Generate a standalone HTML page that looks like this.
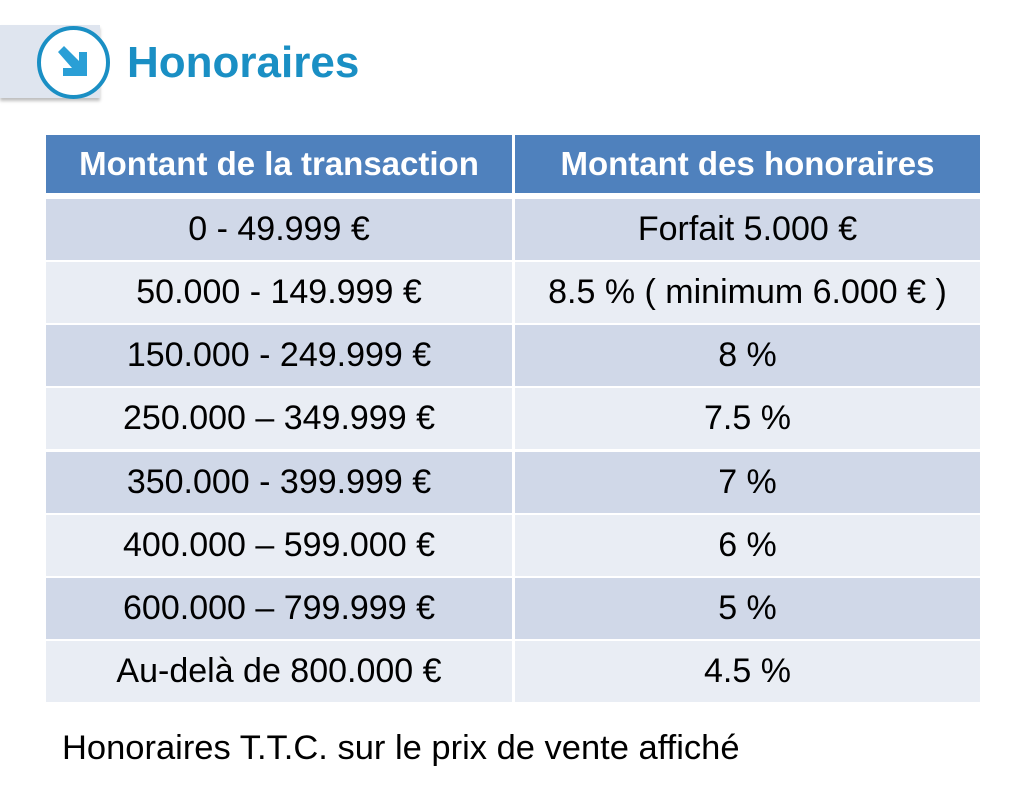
<!DOCTYPE html>
<html><head><meta charset="utf-8"><style>
body{margin:0;width:1024px;height:794px;background:#fff;position:relative;overflow:hidden;font-family:"Liberation Sans","DejaVu Sans",sans-serif}
.band{position:absolute;left:0;top:25px;width:100px;height:73px;background:#dfe5ef;box-shadow:0 3px 3px rgba(0,0,0,0.25)}
.circ{position:absolute;left:37px;top:26px;width:65px;height:65px;border:4px solid #1a8fc4;border-radius:50%;background:#fff}
.title{position:absolute;left:127px;top:38px;font-size:44px;font-weight:bold;color:#1a8fc4}
.c{position:absolute;display:flex;align-items:center;justify-content:center;font-size:34px;color:#000}
.h{background:#4f81bd;color:#fff;font-weight:bold;font-size:33px}
.foot{position:absolute;left:62px;top:729px;font-size:34.5px;color:#000}
</style></head><body>
<div class="band"></div>
<div class="circ"><svg width="65" height="65" viewBox="0 0 65 65"><path d="M17 22 L23 16 L38 31 L38 22 L46 22 L46 46 L22 46 L22 38 L31 38 Z" fill="#2a9fd6"/></svg></div>
<div class="title">Honoraires</div>

<div class="c h" style="left:46px;top:135px;width:466px;height:58px">Montant de la transaction</div>
<div class="c h" style="left:515px;top:135px;width:465px;height:58px">Montant des honoraires</div>

<div class="c" style="left:46px;top:199px;width:466px;height:61px;background:#d0d8e8">0 - 49.999 €</div>
<div class="c" style="left:515px;top:199px;width:465px;height:61px;background:#d0d8e8">Forfait 5.000 €</div>
<div class="c" style="left:46px;top:262px;width:466px;height:61px;background:#e9edf4">50.000 - 149.999 €</div>
<div class="c" style="left:515px;top:262px;width:465px;height:61px;background:#e9edf4">8.5 % ( minimum 6.000 € )</div>
<div class="c" style="left:46px;top:325px;width:466px;height:61px;background:#d0d8e8">150.000 - 249.999 €</div>
<div class="c" style="left:515px;top:325px;width:465px;height:61px;background:#d0d8e8">8 %</div>
<div class="c" style="left:46px;top:388px;width:466px;height:61px;background:#e9edf4">250.000 – 349.999 €</div>
<div class="c" style="left:515px;top:388px;width:465px;height:61px;background:#e9edf4">7.5 %</div>
<div class="c" style="left:46px;top:452px;width:466px;height:61px;background:#d0d8e8">350.000 - 399.999 €</div>
<div class="c" style="left:515px;top:452px;width:465px;height:61px;background:#d0d8e8">7 %</div>
<div class="c" style="left:46px;top:515px;width:466px;height:61px;background:#e9edf4">400.000 – 599.000 €</div>
<div class="c" style="left:515px;top:515px;width:465px;height:61px;background:#e9edf4">6 %</div>
<div class="c" style="left:46px;top:578px;width:466px;height:61px;background:#d0d8e8">600.000 – 799.999 €</div>
<div class="c" style="left:515px;top:578px;width:465px;height:61px;background:#d0d8e8">5 %</div>
<div class="c" style="left:46px;top:641px;width:466px;height:61px;background:#e9edf4">Au-delà de 800.000 €</div>
<div class="c" style="left:515px;top:641px;width:465px;height:61px;background:#e9edf4">4.5 %</div>

<div class="foot">Honoraires T.T.C. sur le prix de vente affiché</div>
</body></html>
